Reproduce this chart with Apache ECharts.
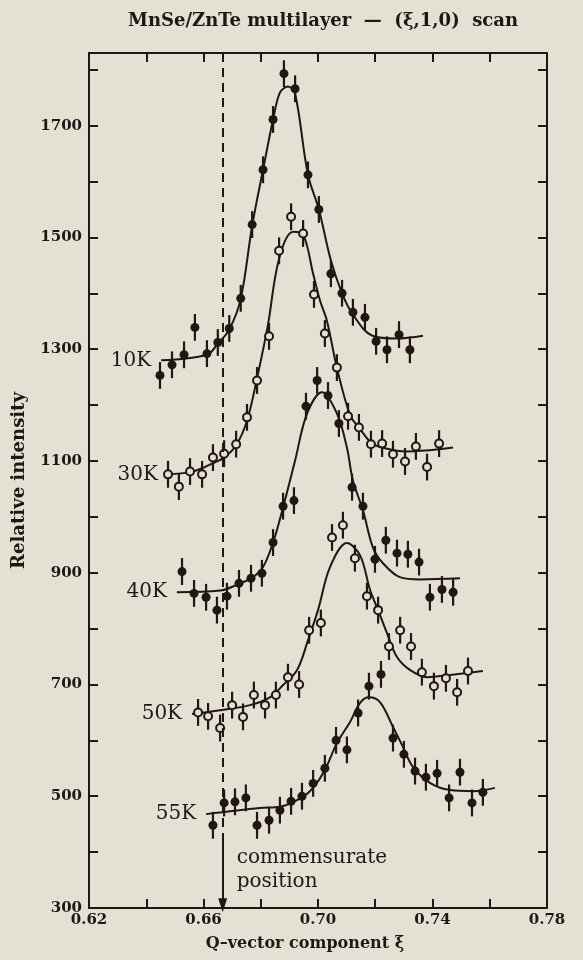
<!DOCTYPE html>
<html>
<head>
<meta charset="utf-8">
<title>MnSe/ZnTe multilayer (ξ,1,0) scan</title>
<script src="https://cdn.jsdelivr.net/npm/echarts@6/dist/echarts.min.js"></script>
<style>
  html, body { margin: 0; padding: 0; background: #e5e0d4; }
  #chart { width: 583px; height: 960px; }
</style>
</head>
<body>
<div id="chart"></div>
<script>
// ---- measured points (ξ, relative intensity) ----
const xi10  = [0.6448,0.6490,0.6532,0.6570,0.6612,0.6650,0.6690,0.6730,0.6770,0.6808,0.6843,0.6881,0.6920,0.6965,0.7003,0.7045,0.7084,0.7122,0.7164,0.7203,0.7241,0.7283,0.7321];
const int10 = [1253,1272,1290,1339,1292,1312,1337,1391,1523,1621,1711,1793,1766,1612,1550,1435,1400,1366,1357,1314,1299,1326,1299];

const xi30  = [0.6476,0.6514,0.6553,0.6595,0.6633,0.6672,0.6714,0.6752,0.6787,0.6829,0.6864,0.6906,0.6948,0.6986,0.7024,0.7066,0.7105,0.7143,0.7185,0.7224,0.7262,0.7304,0.7342,0.7381,0.7423];
const int30 = [1076,1054,1081,1076,1106,1113,1130,1178,1244,1323,1476,1537,1507,1398,1328,1267,1180,1160,1130,1131,1112,1099,1126,1089,1131];

const xi40  = [0.6525,0.6567,0.6609,0.6647,0.6682,0.6724,0.6766,0.6804,0.6843,0.6878,0.6916,0.6958,0.6997,0.7035,0.7073,0.7119,0.7157,0.7199,0.7237,0.7276,0.7314,0.7353,0.7391,0.7433,0.7472];
const int40 = [902,863,856,833,858,881,890,899,954,1019,1029,1198,1244,1217,1167,1053,1019,924,958,935,933,919,856,870,865];

const xi50  = [0.6581,0.6616,0.6658,0.6700,0.6738,0.6776,0.6815,0.6853,0.6895,0.6934,0.6969,0.7010,0.7049,0.7087,0.7129,0.7171,0.7210,0.7248,0.7287,0.7325,0.7363,0.7405,0.7447,0.7486,0.7524];
const int50 = [650,643,622,663,642,681,663,681,713,700,797,810,963,985,926,858,833,768,797,768,722,697,711,686,724];

const xi55  = [0.6633,0.6672,0.6710,0.6748,0.6787,0.6829,0.6867,0.6906,0.6944,0.6983,0.7024,0.7063,0.7101,0.7140,0.7178,0.7220,0.7262,0.7300,0.7339,0.7377,0.7416,0.7458,0.7496,0.7538,0.7576];
const int55 = [448,488,490,497,448,457,475,491,500,523,550,600,583,649,697,718,604,575,545,534,541,497,543,488,507];

// ---- fitted curves ----
const fitXi10  = [0.6452,0.6612,0.6650,0.6690,0.6730,0.6770,0.6808,0.6843,0.6867,0.6895,0.6920,0.6965,0.7003,0.7045,0.7084,0.7122,0.7190,0.7276,0.7367];
const fitInt10 = [1280,1290,1310,1335,1390,1521,1621,1711,1759,1770,1757,1612,1550,1459,1400,1362,1324,1319,1324];

const fitXi30  = [0.6476,0.6553,0.6595,0.6633,0.6672,0.6714,0.6752,0.6787,0.6825,0.6864,0.6913,0.6948,0.6983,0.7007,0.7031,0.7066,0.7112,0.7143,0.7185,0.7224,0.7307,0.7472];
const fitInt30 = [1076,1080,1087,1096,1106,1128,1172,1248,1343,1462,1510,1505,1435,1387,1351,1267,1182,1160,1133,1124,1117,1124];

const fitXi40  = [0.6507,0.6658,0.6728,0.6773,0.6808,0.6843,0.6878,0.6920,0.6962,0.7014,0.7066,0.7101,0.7122,0.7157,0.7192,0.7227,0.7286,0.7356,0.7496];
const fitInt40 = [865,868,881,892,910,954,1017,1101,1185,1223,1185,1124,1065,1012,945,917,892,888,890];

const fitXi50  = [0.6560,0.6658,0.6762,0.6832,0.6878,0.6927,0.6965,0.7000,0.7042,0.7101,0.7147,0.7182,0.7210,0.7241,0.7276,0.7321,0.7381,0.7461,0.7576];
const fitInt50 = [647,654,663,677,699,726,779,833,910,953,931,869,833,792,749,726,713,717,724];

const fitXi55  = [0.6609,0.6797,0.6867,0.6944,0.6983,0.7024,0.7066,0.7112,0.7147,0.7178,0.7217,0.7262,0.7297,0.7332,0.7391,0.7461,0.7542,0.7618];
const fitInt55 = [468,479,481,498,515,547,595,633,667,677,668,624,588,552,524,511,509,515];

// ---- labels, axes, reference line ----
const tempLabels = ['10K', '30K', '40K', '50K', '55K'];
const xTickLabels = ['0.62', '0.66', '0.70', '0.74', '0.78'];
const yTickLabels = ['300', '500', '700', '900', '1100', '1300', '1500', '1700'];
const errHalf = 24;            // half-length of the error bars (intensity units)
const commensurateXi = 0.6667; // commensurate position ξ = 2/3
const dashEndY = 420;          // where the dashed marker turns into the solid arrow
const arrowTipY = 305;
const noteY = 368;             // vertical centre of the "commensurate position" note

const INK = '#1f1714';
const PAPER = '#e5e0d4';
const SERIF = '"DejaVu Serif", "Liberation Serif", serif';

const pairs = (xs, ys) => xs.map((x, i) => [x, ys[i]]);

function errorBars(xs, ys) {
  return {
    type: 'custom',
    z: 3,
    silent: true,
    data: xs.map((x, i) => [x, ys[i] - errHalf, ys[i] + errHalf]),
    renderItem: function (params, api) {
      const lo = api.coord([api.value(0), api.value(1)]);
      const hi = api.coord([api.value(0), api.value(2)]);
      return {
        type: 'line',
        shape: { x1: lo[0], y1: lo[1], x2: hi[0], y2: hi[1] },
        style: { stroke: INK, lineWidth: 2.2 }
      };
    }
  };
}

function points(xs, ys, open) {
  return {
    type: 'scatter',
    z: 4,
    silent: true,
    symbol: 'circle',
    symbolSize: open ? 8 : 9,
    itemStyle: open
      ? { color: PAPER, borderColor: INK, borderWidth: 2, opacity: 1 }
      : { color: INK, borderColor: INK, borderWidth: 0, opacity: 1 },
    data: pairs(xs, ys)
  };
}

function fit(xs, ys) {
  return {
    type: 'line',
    z: 2,
    silent: true,
    showSymbol: false,
    symbol: 'none',
    smooth: 0.35,
    lineStyle: { color: INK, width: 2 },
    data: pairs(xs, ys)
  };
}

// text anchored at a data position, offset sideways by a few pixels
function textMark(x, y, text, side, gap, size, lineHeight) {
  return {
    type: 'custom',
    z: 5,
    silent: true,
    data: [[x, y]],
    renderItem: function (params, api) {
      const p = api.coord([api.value(0), api.value(1)]);
      return {
        type: 'text',
        x: p[0] + (side === 'right' ? gap : -gap),
        y: p[1],
        style: {
          text: text,
          fill: INK,
          font: size + 'px ' + SERIF,
          lineHeight: lineHeight,
          align: side === 'right' ? 'left' : 'right',
          verticalAlign: 'middle'
        }
      };
    }
  };
}

const groups = [
  [xi10, int10, fitXi10, fitInt10, false],
  [xi30, int30, fitXi30, fitInt30, true],
  [xi40, int40, fitXi40, fitInt40, false],
  [xi50, int50, fitXi50, fitInt50, true],
  [xi55, int55, fitXi55, fitInt55, false]
];

const series = [];
groups.forEach((g, k) => {
  series.push(fit(g[2], g[3]));
  series.push(errorBars(g[0], g[1]));
  series.push(points(g[0], g[1], g[4]));
  series.push(textMark(g[2][0], g[3][0], tempLabels[k], 'left', 10, 20, 24));
});

// commensurate-position marker: dashed line ending in a solid arrow
series.push({
  type: 'line',
  data: [],
  silent: true,
  markLine: {
    silent: true,
    symbol: ['none', 'none'],
    label: { show: false },
    data: [
      [
        { coord: [commensurateXi, 1830], lineStyle: { color: INK, width: 2, type: [9, 6] } },
        { coord: [commensurateXi, dashEndY] }
      ],
      [
        { coord: [commensurateXi, dashEndY], symbol: 'none', lineStyle: { color: INK, width: 2, type: 'solid' } },
        { coord: [commensurateXi, arrowTipY], symbol: 'triangle', symbolSize: [9, 14], symbolRotate: 180 }
      ]
    ]
  }
});
series.push(textMark(commensurateXi, noteY, 'commensurate\nposition', 'right', 14, 20, 24));

const axisCommon = {
  axisLine: { show: true, lineStyle: { color: INK, width: 2 } },
  axisTick: { show: true, inside: true, length: 9, lineStyle: { color: INK, width: 2 } },
  splitLine: { show: false }
};

const option = {
  backgroundColor: PAPER,
  animation: false,
  title: {
    text: 'MnSe/ZnTe multilayer  —  (ξ,1,0)  scan',
    left: 318,
    top: 7,
    textAlign: 'center',
    textStyle: { color: INK, fontFamily: SERIF, fontWeight: 'bold', fontSize: 18 }
  },
  grid: { left: 89, right: 36, top: 53, bottom: 52 },
  xAxis: [
    Object.assign({}, axisCommon, {
      type: 'value', min: 0.62, max: 0.78, interval: 0.02, position: 'bottom',
      name: 'Q–vector component ξ', nameLocation: 'middle', nameGap: 28,
      nameTextStyle: { color: INK, fontFamily: SERIF, fontSize: 16, fontWeight: 'bold', padding: [0, 26, 0, 0] },
      axisLabel: {
        color: INK, fontFamily: SERIF, fontSize: 15, fontWeight: 'bold', margin: 5,
        formatter: v => {
          const s = v.toFixed(2);
          return xTickLabels.indexOf(s) >= 0 ? s : '';
        }
      }
    }),
    Object.assign({}, axisCommon, {
      type: 'value', min: 0.62, max: 0.78, interval: 0.02, position: 'top',
      axisLabel: { show: false }
    })
  ],
  yAxis: [
    Object.assign({}, axisCommon, {
      type: 'value', min: 300, max: 1830, interval: 100, position: 'left',
      name: 'Relative intensity', nameLocation: 'middle', nameGap: 61, nameRotate: 90,
      nameTextStyle: { color: INK, fontFamily: SERIF, fontSize: 18, fontWeight: 'bold' },
      axisLabel: {
        color: INK, fontFamily: SERIF, fontSize: 15, fontWeight: 'bold', margin: 7,
        formatter: v => {
          const s = String(Math.round(v));
          return yTickLabels.indexOf(s) >= 0 ? s : '';
        }
      }
    }),
    Object.assign({}, axisCommon, {
      type: 'value', min: 300, max: 1830, interval: 100, position: 'right',
      axisLabel: { show: false }
    })
  ],
  series: series
};

const chart = echarts.init(document.getElementById('chart'), null, { renderer: 'canvas' });
chart.setOption(option);
</script>
</body>
</html>
